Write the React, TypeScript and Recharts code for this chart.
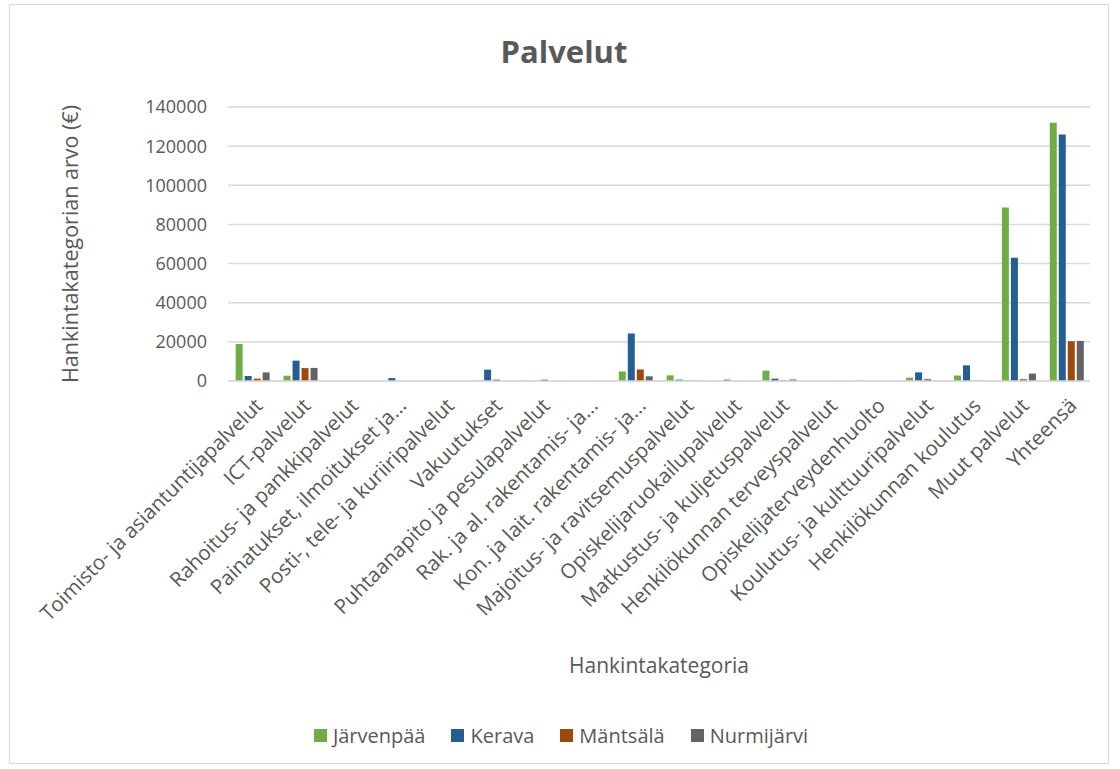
import React from "react";
import {
  Bar,
  BarChart,
  CartesianGrid,
  Label,
  Legend,
  XAxis,
  YAxis,
} from "recharts";

const categories = [
  "Toimisto- ja asiantuntijapalvelut",
  "ICT-palvelut",
  "Rahoitus- ja pankkipalvelut",
  "Painatukset, ilmoitukset ja...",
  "Posti-, tele- ja kuriiripalvelut",
  "Vakuutukset",
  "Puhtaanapito ja pesulapalvelut",
  "Rak. ja al. rakentamis- ja...",
  "Kon. ja lait. rakentamis- ja...",
  "Majoitus- ja ravitsemuspalvelut",
  "Opiskelijaruokailupalvelut",
  "Matkustus- ja kuljetuspalvelut",
  "Henkilökunnan terveyspalvelut",
  "Opiskelijaterveydenhuolto",
  "Koulutus- ja kulttuuripalvelut",
  "Henkilökunnan koulutus",
  "Muut palvelut",
  "Yhteensä",
];

const jarvenpaa = [18900, 2700, 0, 0, 0, 300, 300, 0, 4900, 2900, 100, 5300, 0, 200, 1700, 2800, 88700, 132000];
const kerava = [2550, 10400, 0, 1500, 0, 5800, 0, 0, 24300, 700, 700, 1200, 0, 0, 4400, 8000, 63000, 126000];
const mantsala = [1200, 6600, 0, 0, 0, 700, 700, 0, 5900, 200, 0, 300, 0, 0, 900, 200, 900, 20300];
const nurmijarvi = [4400, 6700, 0, 0, 0, 0, 0, 100, 2400, 200, 0, 800, 100, 0, 0, 100, 3800, 20500];

const yTicks = [0, 20000, 40000, 60000, 80000, 100000, 120000, 140000];

const seriesNames = ["Järvenpää", "Kerava", "Mäntsälä", "Nurmijärvi"];
const seriesColors = ["#70ad47", "#255e91", "#9e480e", "#636363"];

const rows = categories.map((name, i) => ({
  name,
  s0: jarvenpaa[i],
  s1: kerava[i],
  s2: mantsala[i],
  s3: nurmijarvi[i],
}));

const FONT = "'Open Sans', 'DejaVu Sans', sans-serif";
const TEXT = "#595959";

function CategoryTick(props: any) {
  const { x, y, payload } = props;
  const ax = x + 12;
  const ay = y + 24;
  return (
    <text
      x={ax}
      y={ay}
      transform={`rotate(-45, ${ax}, ${ay})`}
      textAnchor="end"
      fontSize={20.5}
      fill={TEXT}
      fontFamily={FONT}
    >
      {payload.value}
    </text>
  );
}

function LegendContent(props: any) {
  const items = props.payload || [];
  return (
    <div style={{ display: "flex", justifyContent: "center", gap: 26, fontFamily: FONT, fontSize: 20, color: TEXT }}>
      {items.map((item: any) => (
        <div key={item.value} style={{ display: "flex", alignItems: "center" }}>
          <span style={{ width: 13, height: 13, background: item.color, marginRight: 6, display: "inline-block" }} />
          <span>{item.value}</span>
        </div>
      ))}
    </div>
  );
}

export default function App() {
  return (
    <div style={{ position: "absolute", left: 0, top: 0, width: 1120, height: 769, background: "#fff" }}>
      <div
        style={{
          position: "absolute",
          left: 9,
          top: 4,
          width: 1100,
          height: 760,
          border: "1px solid #d9d9d9",
          boxSizing: "border-box",
        }}
      />
      <div
        style={{
          position: "absolute",
          left: 0,
          width: 1128,
          top: 30,
          textAlign: "center",
          fontFamily: FONT,
          fontWeight: 700,
          fontSize: 31,
          color: TEXT,
        }}
      >
        Palvelut
      </div>
      <BarChart
        width={1120}
        height={769}
        data={rows}
        margin={{ top: 107, right: 30, bottom: 0, left: 148 }}
        barCategoryGap="16%"
        barGap={2}
        style={{ position: "absolute", left: 0, top: 0 }}
      >
        <CartesianGrid vertical={false} stroke="#d9d9d9" strokeWidth={1.5} />
        <XAxis
          dataKey="name"
          interval={0}
          height={361}
          tick={<CategoryTick />}
          tickLine={false}
          tickSize={0}
          axisLine={{ stroke: "#d9d9d9", strokeWidth: 1.5 }}
        >
          <Label
            value="Hankintakategoria"
            position="insideBottom"
            offset={69}
            style={{ fontFamily: FONT, fontSize: 21, fill: TEXT }}
          />
        </XAxis>
        <YAxis
          domain={[0, 140000]}
          ticks={yTicks}
          width={80}
          tickLine={false}
          axisLine={false}
          tickSize={0}
          tickMargin={21}
          tick={{ fontFamily: FONT, fontSize: 18, fill: TEXT }}
        >
          <Label
            value="Hankintakategorian arvo (€)"
            angle={-90}
            position="insideLeft"
            offset={-78}
            style={{ fontFamily: FONT, fontSize: 21.5, fill: TEXT, textAnchor: "middle" }}
          />
        </YAxis>
        <Legend
          verticalAlign="bottom"
          content={<LegendContent />}
          wrapperStyle={{ left: 0, width: 1122, bottom: 20 }}
        />
        <Bar dataKey="s0" name={seriesNames[0]} fill={seriesColors[0]} isAnimationActive={false} />
        <Bar dataKey="s1" name={seriesNames[1]} fill={seriesColors[1]} isAnimationActive={false} />
        <Bar dataKey="s2" name={seriesNames[2]} fill={seriesColors[2]} isAnimationActive={false} />
        <Bar dataKey="s3" name={seriesNames[3]} fill={seriesColors[3]} isAnimationActive={false} />
      </BarChart>
    </div>
  );
}
